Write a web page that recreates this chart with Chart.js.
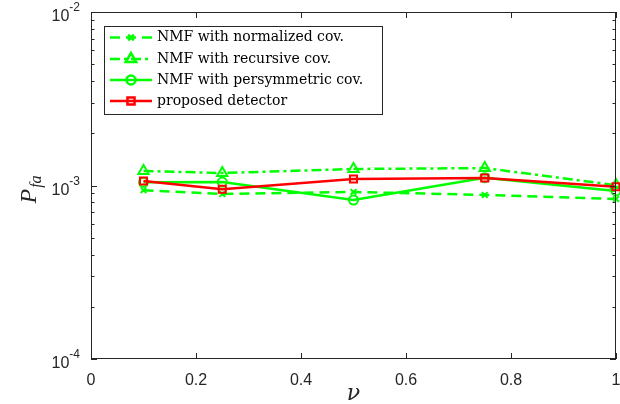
<!DOCTYPE html>
<html>
<head>
<meta charset="utf-8">
<script src="https://cdn.jsdelivr.net/npm/chart.js@4.4.1/dist/chart.umd.min.js"></script>
<style>
  html, body { margin: 0; padding: 0; background: #fff; }
  #wrap { width: 620px; height: 404px; }
</style>
</head>
<body>
<div id="wrap"><canvas id="grafico" width="620" height="404"></canvas></div>
<script>
// valores
const nu = [0.1, 0.25, 0.5, 0.75, 1];
const normalizada = [0.94e-3, 0.893e-3, 0.918e-3, 0.882e-3, 0.836e-3];
const recursiva = [1.212e-3, 1.18e-3, 1.245e-3, 1.26e-3, 1.005e-3];
const persimetrica = [1.043e-3, 1.047e-3, 0.825e-3, 1.109e-3, 0.93e-3];
const proposto = [1.061e-3, 0.951e-3, 1.09e-3, 1.104e-3, 0.984e-3];

const nomes = ["NMF with normalized cov.", "NMF with recursive cov.",
               "NMF with persymmetric cov.", "proposed detector"];
const ticksX = [0, 0.2, 0.4, 0.6, 0.8, 1];
const ticksY = [1e-4, 1e-3, 1e-2];
const expoentesY = ["-4", "-3", "-2"];

const verde = "#00ff00";
const vermelho = "#ff0000";
const corEixo = "#262626";

function pontos(valores) {
    return nu.map((x, i) => ({ x: x, y: valores[i] }));
}

const series = [
    { label: nomes[0], data: pontos(normalizada), borderColor: verde, borderDash: [10, 6],
      pointStyle: "crossRot", pointRadius: 4, order: 3 },
    { label: nomes[1], data: pontos(recursiva), borderColor: verde, borderDash: [10, 4, 3, 4],
      pointStyle: "triangle", pointRadius: 6, order: 2 },
    { label: nomes[2], data: pontos(persimetrica), borderColor: verde, borderDash: [],
      pointStyle: "circle", pointRadius: 4.5, order: 1 },
    { label: nomes[3], data: pontos(proposto), borderColor: vermelho, borderDash: [],
      pointStyle: "rect", pointRadius: 5, order: 0 }
];

// eixos, ticks para dentro e legenda no estilo do MATLAB
const estiloMatlab = {
    id: "estiloMatlab",
    afterDatasetsDraw(chart) {
        const ctx = chart.ctx;
        const a = chart.chartArea;
        const sx = chart.scales.x;
        const sy = chart.scales.y;
        ctx.save();
        ctx.strokeStyle = corEixo;
        ctx.lineWidth = 1;
        ctx.strokeRect(a.left + 0.5, a.top + 0.5, a.right - a.left - 1, a.bottom - a.top - 1);

        ctx.beginPath();
        ticksX.forEach(v => {
            const px = Math.round(sx.getPixelForValue(v)) + 0.5;
            ctx.moveTo(px, a.bottom); ctx.lineTo(px, a.bottom - 6);
            ctx.moveTo(px, a.top); ctx.lineTo(px, a.top + 6);
        });
        for (let e = -4; e <= -2; e++) {
            for (let m = 1; m <= 9; m++) {
                const v = m * Math.pow(10, e);
                if (v > 1e-2 + 1e-9) break;
                const py = Math.round(sy.getPixelForValue(v)) + 0.5;
                const len = m === 1 ? 6 : 3.5;
                ctx.moveTo(a.left, py); ctx.lineTo(a.left + len, py);
                ctx.moveTo(a.right, py); ctx.lineTo(a.right - len, py);
            }
        }
        ctx.stroke();

        // rótulos dos ticks
        ctx.fillStyle = corEixo;
        ctx.font = "16px 'Liberation Sans', Arial, sans-serif";
        ctx.textAlign = "center";
        ctx.textBaseline = "top";
        ticksX.forEach(v => {
            ctx.fillText(String(v), sx.getPixelForValue(v), a.bottom + 14);
        });
        ticksY.forEach((v, i) => {
            const py = sy.getPixelForValue(v);
            ctx.font = "12px 'Liberation Sans', Arial, sans-serif";
            ctx.textAlign = "left";
            ctx.textBaseline = "middle";
            const wExp = ctx.measureText(expoentesY[i]).width;
            ctx.fillText(expoentesY[i], a.left - 11 - wExp, py - 4);
            ctx.font = "16px 'Liberation Sans', Arial, sans-serif";
            ctx.textAlign = "right";
            ctx.fillText("10", a.left - 11 - wExp, py + 5);
        });

        // rótulos dos eixos
        ctx.font = "italic 22px 'DejaVu Serif', serif";
        ctx.textAlign = "center";
        ctx.textBaseline = "alphabetic";
        ctx.fillText("\u03bd", sx.getPixelForValue(0.5), 400);

        ctx.save();
        ctx.translate(36, (a.top + a.bottom) / 2);
        ctx.rotate(-Math.PI / 2);
        ctx.textAlign = "left";
        ctx.font = "italic 24px 'Liberation Serif', serif";
        const wP = ctx.measureText("P").width;
        ctx.fillText("P", -18, 0);
        ctx.font = "italic 16px 'Liberation Serif', serif";
        ctx.fillText("fa", -18 + wP + 1, 5);
        ctx.restore();

        // legenda
        const lx = 104, ly = 26, lw = 278, lh = 88;
        ctx.fillStyle = "#fff";
        ctx.fillRect(lx, ly, lw, lh);
        ctx.strokeStyle = corEixo;
        ctx.strokeRect(lx + 0.5, ly + 0.5, lw, lh);
        const linhas = [37.5, 59, 80, 101];
        series.forEach((s, i) => {
            const y = linhas[i];
            ctx.strokeStyle = s.borderColor;
            ctx.lineWidth = 2.5;
            ctx.setLineDash(s.borderDash);
            ctx.beginPath();
            ctx.moveTo(110, y); ctx.lineTo(152, y);
            ctx.stroke();
            ctx.setLineDash([]);
            ctx.fillStyle = "rgba(0,0,0,0)";
            Chart.helpers.drawPoint(ctx, {
                pointStyle: s.pointStyle, radius: s.pointRadius, rotation: 0, borderWidth: 2
            }, 131, y);
            ctx.fillStyle = "#000";
            ctx.font = "14px 'DejaVu Serif', serif";
            ctx.textAlign = "left";
            ctx.textBaseline = "middle";
            ctx.fillText(s.label, 157, y);
        });
        ctx.restore();
    }
};

new Chart(document.getElementById("grafico"), {
    type: "line",
    data: {
        datasets: series.map(s => ({
            label: s.label,
            data: s.data,
            borderColor: s.borderColor,
            borderDash: s.borderDash,
            borderWidth: 2.5,
            pointStyle: s.pointStyle,
            pointRadius: s.pointRadius,
            pointBorderWidth: 2,
            pointBorderColor: s.borderColor,
            pointBackgroundColor: "rgba(0,0,0,0)",
            tension: 0,
            fill: false,
            clip: false,
            order: s.order
        }))
    },
    options: {
        responsive: false,
        animation: false,
        layout: { autoPadding: false, padding: { left: 91, right: 4, top: 12, bottom: 45 } },
        plugins: { legend: { display: false }, tooltip: { enabled: false } },
        scales: {
            x: {
                type: "linear", min: 0, max: 1,
                ticks: { display: false },
                grid: { display: false, drawTicks: false },
                border: { display: false }
            },
            y: {
                type: "logarithmic", min: 1e-4, max: 1e-2,
                ticks: { display: false },
                grid: { display: false, drawTicks: false },
                border: { display: false }
            }
        }
    },
    plugins: [estiloMatlab]
});
</script>
</body>
</html>
